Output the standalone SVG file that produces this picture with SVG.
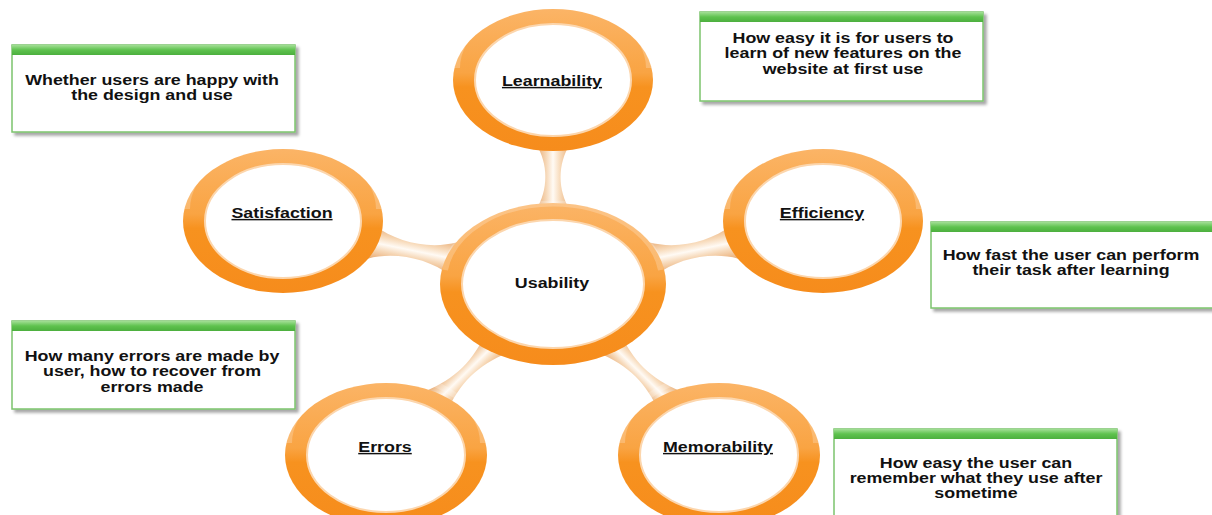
<svg xmlns="http://www.w3.org/2000/svg" width="1212" height="515" viewBox="0 0 1212 515">
  <defs>
    <linearGradient id="ringGrad" x1="0" y1="0" x2="0" y2="1">
      <stop offset="0" stop-color="#fbb466"/>
      <stop offset="0.45" stop-color="#f9a443"/>
      <stop offset="0.55" stop-color="#f7921f"/>
      <stop offset="1" stop-color="#f68c1c"/>
    </linearGradient>
    <linearGradient id="boneGrad" x1="0" y1="0" x2="0" y2="1">
      <stop offset="0" stop-color="#eab07a"/>
      <stop offset="0.3" stop-color="#f8dcbd"/>
      <stop offset="0.5" stop-color="#fffaf4"/>
      <stop offset="0.7" stop-color="#f6d8b8"/>
      <stop offset="1" stop-color="#e8a970"/>
    </linearGradient>
    <linearGradient id="barGrad" x1="0" y1="0" x2="0" y2="1">
      <stop offset="0" stop-color="#a3df96"/>
      <stop offset="0.5" stop-color="#5ec24e"/>
      <stop offset="1" stop-color="#4caf3e"/>
    </linearGradient>
    <filter id="shadow" x="-5%" y="-5%" width="115%" height="120%">
      <feDropShadow dx="3" dy="3" stdDeviation="1.6" flood-color="#000" flood-opacity="0.35"/>
    </filter>
    <style>
      .ring { fill: url(#ringGrad); }
      .hole { fill: #ffffff; stroke: #fcd6ad; stroke-width: 2; }
      .gloss { fill: none; stroke: #ffffff; stroke-opacity: 0.22; stroke-width: 6; }
      .bone { fill: url(#boneGrad); }
      .box { fill: #ffffff; stroke: #7cc46c; stroke-width: 1.5; filter: url(#shadow); }
      .bar { fill: url(#barGrad); }
      text { font-family: "Liberation Sans", Arial, sans-serif; font-weight: bold; font-size: 14.5px; fill: #111111; text-anchor: middle; }
      .lbl { text-decoration: underline; }
    </style>
  </defs>

  <rect width="1212" height="515" fill="#ffffff"/>

  <g id="connectors">
    <path class="bone" transform="translate(553,144) rotate(90)" d="M0,-17 C19.8,-4.5 46.2,-4.5 66,-17 L66,17 C46.2,4.5 19.8,4.5 0,17 Z"/>
    <path class="bone" transform="translate(371,242) rotate(11.57)" d="M0,-17 C25.4,-4.5 59.3,-4.5 84.7,-17 L84.7,17 C59.3,4.5 25.4,4.5 0,17 Z"/>
    <path class="bone" transform="translate(652,259) rotate(-11.57)" d="M0,-17 C25.4,-4.5 59.3,-4.5 84.7,-17 L84.7,17 C59.3,4.5 25.4,4.5 0,17 Z"/>
    <path class="bone" transform="translate(497,342) rotate(135.5)" d="M0,-15 C30,-3 55.6,-3 85.6,-15 L85.6,15 C55.6,3 30,3 0,15 Z"/>
    <path class="bone" transform="translate(609,342) rotate(44.5)" d="M0,-15 C30,-3 55.6,-3 85.6,-15 L85.6,15 C55.6,3 30,3 0,15 Z"/>
  </g>

  <g id="usability">
    <ellipse class="ring" cx="553" cy="284" rx="113" ry="81"/>
    <path class="gloss" d="M445,270 A109,77 0 0 1 661,270"/>
    <ellipse class="hole" cx="553" cy="284" rx="91" ry="64"/>
    <text transform="matrix(1.23 0 0 1 552 0)" x="0" y="288">Usability</text>
  </g>

  <g id="learnability">
    <ellipse class="ring" cx="553" cy="80" rx="100" ry="71"/>
    <path class="gloss" d="M457,68 A96,67 0 0 1 649,68"/>
    <ellipse class="hole" cx="553" cy="80" rx="78" ry="56"/>
    <text class="lbl" transform="matrix(1.23 0 0 1 552 0)" x="0" y="86">Learnability</text>
  </g>

  <g id="satisfaction">
    <ellipse class="ring" cx="283" cy="221" rx="100" ry="72"/>
    <path class="gloss" d="M187,209 A96,68 0 0 1 379,209"/>
    <ellipse class="hole" cx="283" cy="221" rx="78" ry="57"/>
    <text class="lbl" transform="matrix(1.23 0 0 1 282 0)" x="0" y="218">Satisfaction</text>
  </g>

  <g id="efficiency">
    <ellipse class="ring" cx="823" cy="221" rx="100" ry="72"/>
    <path class="gloss" d="M727,209 A96,68 0 0 1 919,209"/>
    <ellipse class="hole" cx="823" cy="221" rx="78" ry="57"/>
    <text class="lbl" transform="matrix(1.23 0 0 1 822 0)" x="0" y="218">Efficiency</text>
  </g>

  <g id="errors">
    <ellipse class="ring" cx="386" cy="455" rx="101" ry="72"/>
    <path class="gloss" d="M289,443 A97,68 0 0 1 483,443"/>
    <ellipse class="hole" cx="386" cy="455" rx="79" ry="57"/>
    <text class="lbl" transform="matrix(1.23 0 0 1 385 0)" x="0" y="452">Errors</text>
  </g>

  <g id="memorability">
    <ellipse class="ring" cx="719" cy="455" rx="101" ry="72"/>
    <path class="gloss" d="M622,443 A97,68 0 0 1 816,443"/>
    <ellipse class="hole" cx="719" cy="455" rx="79" ry="57"/>
    <text class="lbl" transform="matrix(1.23 0 0 1 718 0)" x="0" y="452">Memorability</text>
  </g>

  <g id="box-satisfaction">
    <rect class="box" x="12" y="45" width="283" height="87"/>
    <rect class="bar" x="12" y="45" width="283" height="10"/>
    <text transform="matrix(1.23 0 0 1 152 0)" x="0" y="85">Whether users are happy with</text>
    <text transform="matrix(1.23 0 0 1 152 0)" x="0" y="100">the design and use</text>
  </g>

  <g id="box-learnability">
    <rect class="box" x="700" y="12" width="283" height="89"/>
    <rect class="bar" x="700" y="12" width="283" height="10"/>
    <text transform="matrix(1.23 0 0 1 843 0)" x="0" y="43">How easy it is for users to</text>
    <text transform="matrix(1.23 0 0 1 843 0)" x="0" y="58">learn of new features on the</text>
    <text transform="matrix(1.23 0 0 1 843 0)" x="0" y="74">website at first use</text>
  </g>

  <g id="box-efficiency">
    <rect class="box" x="931" y="222" width="290" height="86"/>
    <rect class="bar" x="931" y="222" width="290" height="10"/>
    <text transform="matrix(1.23 0 0 1 1071 0)" x="0" y="260">How fast the user can perform</text>
    <text transform="matrix(1.23 0 0 1 1071 0)" x="0" y="275">their task after learning</text>
  </g>

  <g id="box-errors">
    <rect class="box" x="12" y="321" width="283" height="88"/>
    <rect class="bar" x="12" y="321" width="283" height="10"/>
    <text transform="matrix(1.23 0 0 1 152 0)" x="0" y="361">How many errors are made by</text>
    <text transform="matrix(1.23 0 0 1 152 0)" x="0" y="376">user, how to recover from</text>
    <text transform="matrix(1.23 0 0 1 152 0)" x="0" y="392">errors made</text>
  </g>

  <g id="box-memorability">
    <rect class="box" x="834" y="429" width="283" height="100"/>
    <rect class="bar" x="834" y="429" width="283" height="10"/>
    <text transform="matrix(1.23 0 0 1 976 0)" x="0" y="468">How easy the user can</text>
    <text transform="matrix(1.23 0 0 1 976 0)" x="0" y="483">remember what they use after</text>
    <text transform="matrix(1.23 0 0 1 976 0)" x="0" y="498">sometime</text>
  </g>
</svg>
